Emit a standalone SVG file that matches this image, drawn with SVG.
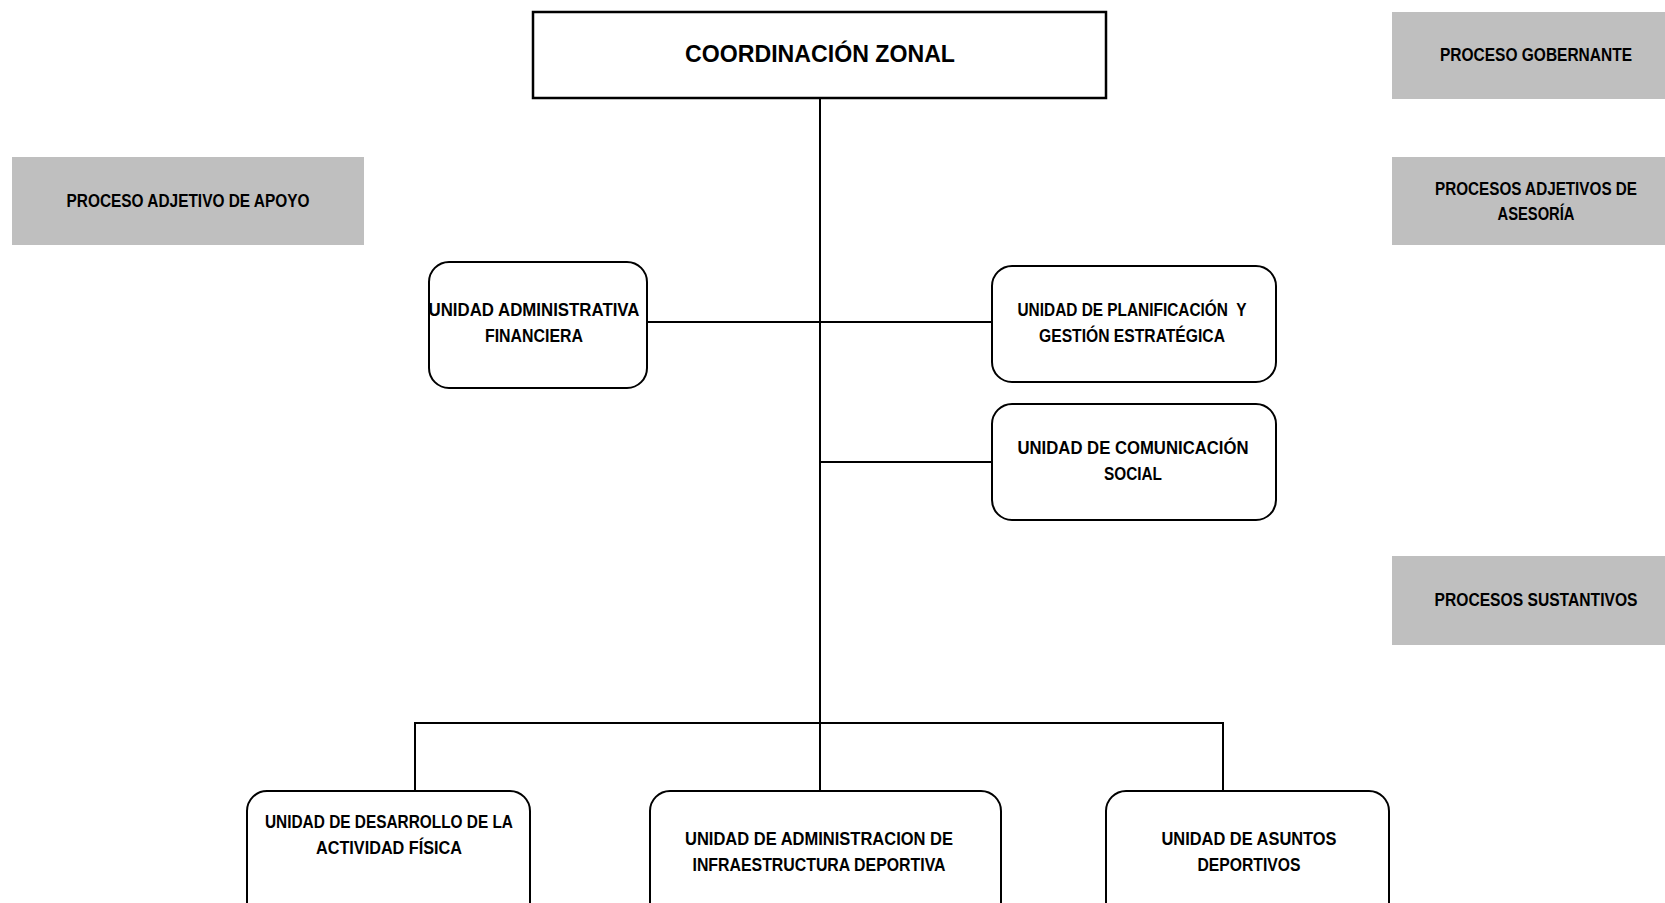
<svg xmlns="http://www.w3.org/2000/svg" width="1665" height="903" viewBox="0 0 1665 903">
<style>
.t{font-family:"Liberation Sans",Arial,sans-serif;font-weight:bold;font-size:18px;fill:#000;text-anchor:middle}
.title{font-size:24px}
.gray{fill:#bfbfbf;stroke:none}
.box{fill:#fff;stroke:#000;stroke-width:2}
.line{stroke:#000;stroke-width:2;fill:none}
</style>
<rect width="1665" height="903" fill="#fff"/>
<g id="connectors">
<path class="line" d="M820,97 V723"/>
<path class="line" d="M647,322 H992"/>
<path class="line" d="M820,462 H992"/>
<path class="line" d="M415,791 V723 H1223 V791"/>
<path class="line" d="M820,723 V791"/>
</g>
<g id="legend-gobernante">
<rect class="gray" x="1392" y="12" width="273" height="87"/>
<text class="t" x="1536" y="61" textLength="192" lengthAdjust="spacingAndGlyphs">PROCESO GOBERNANTE</text>
</g>
<g id="legend-asesoria">
<rect class="gray" x="1392" y="157" width="273" height="88"/>
<text class="t" x="1536" y="195" textLength="202" lengthAdjust="spacingAndGlyphs">PROCESOS ADJETIVOS DE</text>
<text class="t" x="1536" y="220" textLength="77" lengthAdjust="spacingAndGlyphs">ASESORÍA</text>
</g>
<g id="legend-sustantivos">
<rect class="gray" x="1392" y="556" width="273" height="89"/>
<text class="t" x="1536" y="606" textLength="203" lengthAdjust="spacingAndGlyphs">PROCESOS SUSTANTIVOS</text>
</g>
<g id="legend-apoyo">
<rect class="gray" x="12" y="157" width="352" height="88"/>
<text class="t" x="188" y="207" textLength="243" lengthAdjust="spacingAndGlyphs">PROCESO ADJETIVO DE APOYO</text>
</g>
<g id="coordinacion">
<rect x="533" y="12" width="573" height="86" fill="#fff" stroke="#000" stroke-width="2.5"/>
<text class="t title" x="820" y="62" textLength="270" lengthAdjust="spacingAndGlyphs">COORDINACIÓN ZONAL</text>
</g>
<g id="uaf">
<rect class="box" x="429" y="262" width="218" height="126" rx="20" ry="20"/>
<text class="t" x="534" y="316" textLength="211" lengthAdjust="spacingAndGlyphs">UNIDAD ADMINISTRATIVA</text>
<text class="t" x="534" y="342" textLength="98" lengthAdjust="spacingAndGlyphs">FINANCIERA</text>
</g>
<g id="planificacion">
<rect class="box" x="992" y="266" width="284" height="116" rx="20" ry="20"/>
<text class="t" x="1132" y="316" textLength="229" lengthAdjust="spacingAndGlyphs" xml:space="preserve">UNIDAD DE PLANIFICACIÓN  Y</text>
<text class="t" x="1132" y="342" textLength="186" lengthAdjust="spacingAndGlyphs">GESTIÓN ESTRATÉGICA</text>
</g>
<g id="comunicacion">
<rect class="box" x="992" y="404" width="284" height="116" rx="20" ry="20"/>
<text class="t" x="1133" y="454" textLength="231" lengthAdjust="spacingAndGlyphs">UNIDAD DE COMUNICACIÓN</text>
<text class="t" x="1133" y="480" textLength="58" lengthAdjust="spacingAndGlyphs">SOCIAL</text>
</g>
<g id="actividad-fisica">
<rect class="box" x="247" y="791" width="283" height="140" rx="20" ry="20"/>
<text class="t" x="389" y="828" textLength="248" lengthAdjust="spacingAndGlyphs">UNIDAD DE DESARROLLO DE LA</text>
<text class="t" x="389" y="854" textLength="146" lengthAdjust="spacingAndGlyphs">ACTIVIDAD FÍSICA</text>
</g>
<g id="infraestructura">
<rect class="box" x="650" y="791" width="351" height="140" rx="20" ry="20"/>
<text class="t" x="819" y="845" textLength="268" lengthAdjust="spacingAndGlyphs">UNIDAD DE ADMINISTRACION DE</text>
<text class="t" x="819" y="871" textLength="253" lengthAdjust="spacingAndGlyphs">INFRAESTRUCTURA DEPORTIVA</text>
</g>
<g id="asuntos-deportivos">
<rect class="box" x="1106" y="791" width="283" height="140" rx="20" ry="20"/>
<text class="t" x="1249" y="845" textLength="175" lengthAdjust="spacingAndGlyphs">UNIDAD DE ASUNTOS</text>
<text class="t" x="1249" y="871" textLength="103" lengthAdjust="spacingAndGlyphs">DEPORTIVOS</text>
</g>
</svg>
